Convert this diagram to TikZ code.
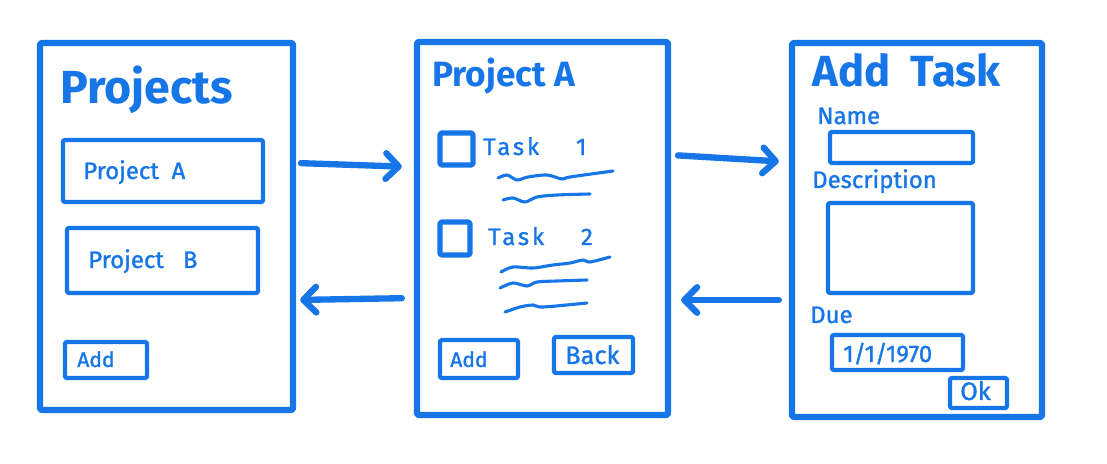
\documentclass[tikz,border=0pt]{standalone}
\usepackage{fontspec}
\setmainfont{Fira Sans}
\newfontfamily\hand[FakeBold=1.2]{Fira Sans}
\usetikzlibrary{arrows.meta,fit}
\definecolor{marker}{RGB}{22,118,232}

\begin{document}
\begin{tikzpicture}[x=0.025cm,y=-0.025cm,
        ink/.style={draw=marker,line cap=round,line join=round},
        panel/.style={ink,line width=4.5pt,inner sep=0pt,rectangle,rounded corners=1.5pt},
        field/.style={ink,line width=3pt,inner sep=0pt,rectangle,rounded corners=1pt},
        checkbox/.style={ink,line width=3.6pt,inner sep=0pt,rectangle,rounded corners=1pt},
        scribble/.style={ink,line width=2.2pt},
        flow/.style={ink,line width=4.5pt,-{Straight Barb[length=3.2mm,width=6.4mm,round]}},
        txt/.style={text=marker,anchor=base west,inner sep=0pt,font=\hand\fontsize{17}{20}\selectfont},
        title/.style={text=marker,anchor=base west,inner sep=0pt,font=\bfseries\fontsize{#1}{36}\selectfont}]
    \useasboundingbox[fill=white] (0,0) rectangle (1107,464);

    % project list
    \node[panel,fit={(40,43) (293,410)}] (list) {};
    \node[title=33] (listtitle) at (60,104) {Projects};
    \node[field,fit={(63,140) (263,202)}] (itema) {};
    \node[txt] (itematxt) at (83,179) {Project\ \ A};
    \node[field,fit={(67,228) (258,293)}] (itemb) {};
    \node[txt] (itembtxt) at (88,268) {Project\ \ \ B};
    \node[field,fit={(65,342) (147,378)}] (addproj) {};
    \node[txt,font=\hand\fontsize{15}{18}\selectfont] (addprojtxt) at (77,367) {Add};

    % one project with its tasks
    \node[panel,fit={(417,42) (668,415)}] (tasks) {};
    \node[title=25] (taskstitle) at (432,87) {Project A};
    \node[checkbox,fit={(440,133) (473,165)}] (check1) {};
    \node[txt,font=\hand\fontsize{17}{20}\addfontfeature{LetterSpace=12}\selectfont] (task1) at (483,155) {Task\ \ \ \ 1};
    \node[checkbox,fit={(440,222) (470,255)}] (check2) {};
    \node[txt,font=\hand\fontsize{17}{20}\addfontfeature{LetterSpace=12}\selectfont] (task2) at (488,245) {Task\ \ \ \ 2};
    \draw[scribble] plot[smooth] coordinates {(498,178) (507,175) (517,180) (528,177) (547,175) (562,179) (570,177) (613,171)};
    \draw[scribble] plot[smooth] coordinates {(503,200) (513,198) (525,202) (537,197) (557,195) (590,194)};
    \draw[scribble] plot[smooth] coordinates {(501,272) (513,267) (533,268) (553,265) (570,263) (583,260) (590,262) (610,257)};
    \draw[scribble] plot[smooth] coordinates {(500,288) (513,283) (527,286) (537,282) (557,281) (587,280)};
    \draw[scribble] plot[smooth] coordinates {(505,312) (520,307) (533,305) (543,307) (587,303)};
    \node[field,fit={(440,340) (518,378)}] (addtask) {};
    \node[txt,font=\hand\fontsize{15}{18}\selectfont] (addtasktxt) at (450,367) {Add};
    \node[field,fit={(554,337) (633,373)}] (back) {};
    \node[txt,font=\hand\fontsize{18}{20}\selectfont] (backtxt) at (565,364) {Back};

    % new task form
    \node[panel,fit={(792,43) (1042,417)}] (form) {};
    \node[title=31] (formtitle) at (812,87) {Add\ \ Task};
    \node[txt] (namelbl) at (817,124) {Name};
    \node[field,fit={(830,132) (973,163)}] (name) {};
    \node[txt] (desclbl) at (812,188) {Description};
    \node[field,fit={(828,203) (973,293)}] (desc) {};
    \node[txt] (duelbl) at (810,323) {Due};
    \node[field,fit={(832,335) (963,370)}] (due) {};
    \node[txt] (duetxt) at (843,362) {1/1/1970};
    \node[field,fit={(950,378) (1007,408)}] (ok) {};
    \node[txt,font=\hand\fontsize{18}{20}\selectfont] (oktxt) at (960,400) {Ok};

    % navigation
    \draw[flow,shorten <=0.12cm,shorten >=0.3cm] (list.east |- 0,163) -- (tasks.west |- 0,167);
    \draw[flow,shorten <=0.3cm,shorten >=0.1cm] (tasks.west |- 0,298) -- (list.east |- 0,300);
    \draw[flow,shorten <=0.17cm,shorten >=0.25cm] (tasks.east |- 0,155) -- (form.west |- 0,162);
    \draw[flow,shorten <=0.25cm,shorten >=0.25cm] (form.west |- 0,300) -- (tasks.east |- 0,300);
\end{tikzpicture}
\end{document}
